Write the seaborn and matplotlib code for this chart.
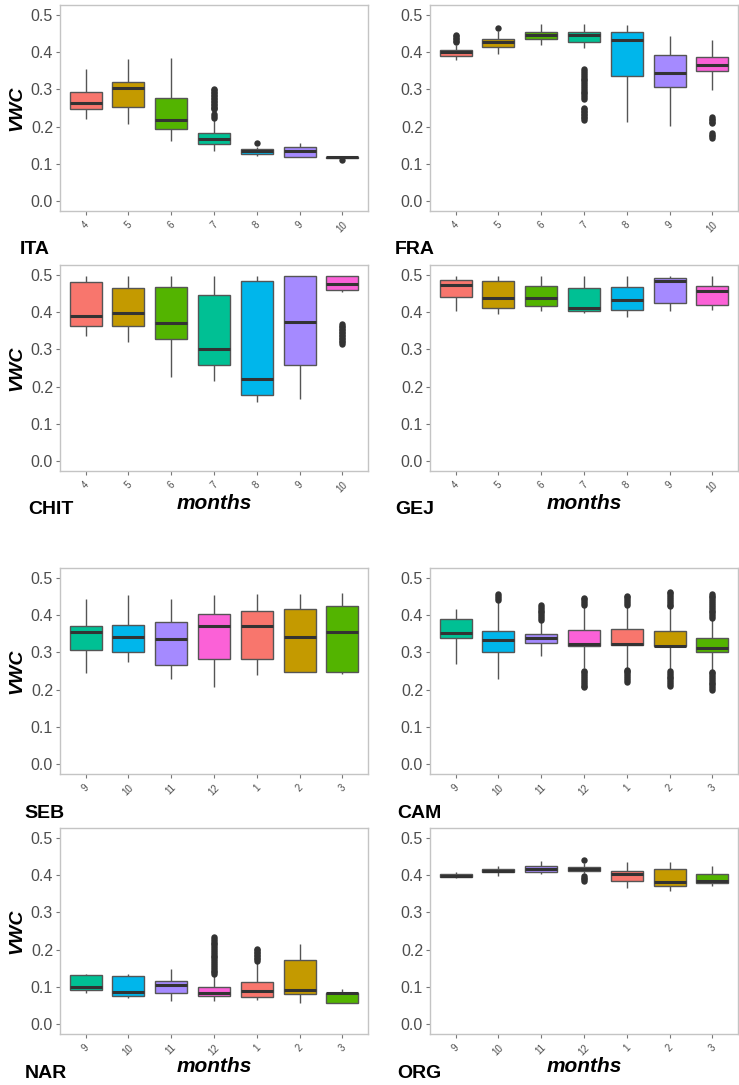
import matplotlib
matplotlib.use("Agg")
import matplotlib.pyplot as plt
import pandas as pd
import seaborn as sns

# ---------------------------------------------------------------------------
# Soil volumetric water content (VWC) per month at eight sites.
# Each box is given as (lower whisker, Q1, median, Q3, upper whisker).
# ---------------------------------------------------------------------------
MONTHS_A = ["4", "5", "6", "7", "8", "9", "10"]
MONTHS_B = ["9", "10", "11", "12", "1", "2", "3"]

ITA_stats = [
    (0.220, 0.246, 0.264, 0.292, 0.355),
    (0.207, 0.254, 0.304, 0.319, 0.382),
    (0.161, 0.194, 0.217, 0.278, 0.385),
    (0.135, 0.154, 0.168, 0.182, 0.218),
    (0.122, 0.127, 0.134, 0.140, 0.145),
    (0.120, 0.120, 0.135, 0.145, 0.157),
    (0.117, 0.117, 0.118, 0.119, 0.120),
]
ITA_outliers = {
    "7": [0.222, 0.228, 0.235, 0.246, 0.250, 0.254, 0.258, 0.262, 0.266,
          0.270, 0.274, 0.278, 0.282, 0.286, 0.290, 0.294, 0.298, 0.302],
    "8": [0.157],
    "10": [0.111],
}

FRA_stats = [
    (0.379, 0.390, 0.399, 0.405, 0.420),
    (0.395, 0.414, 0.427, 0.435, 0.455),
    (0.418, 0.434, 0.445, 0.454, 0.475),
    (0.410, 0.428, 0.446, 0.453, 0.476),
    (0.213, 0.337, 0.433, 0.453, 0.473),
    (0.203, 0.307, 0.344, 0.391, 0.444),
    (0.298, 0.349, 0.365, 0.387, 0.433),
]
FRA_outliers = {
    "4": [0.426, 0.430, 0.434, 0.438, 0.442, 0.446],
    "5": [0.464],
    "7": [0.218, 0.222, 0.226, 0.230, 0.234, 0.238, 0.242, 0.246, 0.249,
          0.274, 0.279, 0.284, 0.289, 0.294, 0.299, 0.304, 0.309, 0.314,
          0.319, 0.324, 0.329, 0.334, 0.339, 0.344, 0.349, 0.354],
    "10": [0.170, 0.174, 0.178, 0.182, 0.209, 0.213, 0.217, 0.221, 0.225],
}

CHIT_stats = [
    (0.337, 0.363, 0.388, 0.480, 0.497),
    (0.321, 0.362, 0.397, 0.464, 0.497),
    (0.225, 0.329, 0.371, 0.467, 0.497),
    (0.215, 0.258, 0.300, 0.446, 0.497),
    (0.160, 0.178, 0.220, 0.484, 0.497),
    (0.167, 0.257, 0.374, 0.497, 0.497),
    (0.453, 0.460, 0.476, 0.497, 0.497),
]
CHIT_outliers = {
    "10": [0.315, 0.319, 0.323, 0.327, 0.331, 0.335, 0.339, 0.343, 0.347,
           0.351, 0.355, 0.359, 0.363, 0.367],
}

GEJ_stats = [
    (0.403, 0.440, 0.473, 0.487, 0.497),
    (0.395, 0.412, 0.437, 0.484, 0.497),
    (0.403, 0.415, 0.437, 0.471, 0.497),
    (0.398, 0.403, 0.410, 0.464, 0.497),
    (0.387, 0.405, 0.432, 0.468, 0.497),
    (0.403, 0.423, 0.482, 0.491, 0.497),
    (0.405, 0.419, 0.456, 0.470, 0.497),
]
GEJ_outliers = {}

SEB_stats = [
    (0.244, 0.305, 0.355, 0.371, 0.443),
    (0.273, 0.302, 0.340, 0.373, 0.454),
    (0.228, 0.267, 0.336, 0.382, 0.443),
    (0.208, 0.281, 0.370, 0.402, 0.454),
    (0.240, 0.282, 0.370, 0.410, 0.456),
    (0.246, 0.248, 0.340, 0.415, 0.456),
    (0.243, 0.246, 0.355, 0.425, 0.459),
]
SEB_outliers = {}

CAM_stats = [
    (0.270, 0.338, 0.353, 0.389, 0.417),
    (0.228, 0.300, 0.332, 0.358, 0.435),
    (0.290, 0.325, 0.338, 0.350, 0.382),
    (0.258, 0.316, 0.323, 0.360, 0.422),
    (0.258, 0.319, 0.322, 0.363, 0.422),
    (0.256, 0.316, 0.317, 0.358, 0.418),
    (0.253, 0.302, 0.311, 0.338, 0.388),
]
CAM_outliers = {
    "10": [0.440, 0.445, 0.450, 0.455],
    "11": [0.387, 0.392, 0.397, 0.402, 0.407, 0.412, 0.417, 0.422, 0.427],
    "12": [0.206, 0.211, 0.216, 0.221, 0.226, 0.231, 0.236, 0.241, 0.246,
           0.250, 0.427, 0.432, 0.437, 0.442, 0.445],
    "1": [0.221, 0.226, 0.231, 0.236, 0.241, 0.246, 0.251, 0.254,
          0.427, 0.432, 0.437, 0.442, 0.447, 0.452],
    "2": [0.210, 0.215, 0.220, 0.225, 0.230, 0.235, 0.240, 0.245, 0.250,
          0.423, 0.428, 0.433, 0.438, 0.443, 0.448, 0.453, 0.458, 0.461],
    "3": [0.199, 0.204, 0.209, 0.214, 0.219, 0.224, 0.229, 0.234, 0.239,
          0.244, 0.247, 0.392, 0.397, 0.402, 0.407, 0.412, 0.417, 0.422,
          0.427, 0.432, 0.437, 0.442, 0.447, 0.452, 0.457],
}

NAR_stats = [
    (0.084, 0.093, 0.100, 0.133, 0.134),
    (0.071, 0.076, 0.087, 0.130, 0.134),
    (0.062, 0.083, 0.106, 0.115, 0.147),
    (0.062, 0.077, 0.085, 0.100, 0.130),
    (0.065, 0.072, 0.089, 0.112, 0.165),
    (0.058, 0.080, 0.093, 0.172, 0.216),
    (0.056, 0.056, 0.083, 0.084, 0.094),
]
NAR_outliers = {
    "12": [0.134, 0.139, 0.144, 0.149, 0.154, 0.159, 0.164, 0.169, 0.174,
           0.179, 0.184, 0.189, 0.194, 0.199, 0.204, 0.209, 0.214, 0.219,
           0.224, 0.229, 0.234],
    "1": [0.170, 0.174, 0.178, 0.182, 0.186, 0.190, 0.194, 0.198, 0.202],
}

ORG_stats = [
    (0.393, 0.394, 0.398, 0.403, 0.409),
    (0.398, 0.408, 0.412, 0.417, 0.423),
    (0.402, 0.409, 0.416, 0.425, 0.437),
    (0.405, 0.411, 0.417, 0.422, 0.432),
    (0.365, 0.385, 0.404, 0.412, 0.434),
    (0.356, 0.371, 0.382, 0.415, 0.436),
    (0.370, 0.378, 0.385, 0.402, 0.425),
]
ORG_outliers = {
    "12": [0.385, 0.389, 0.393, 0.397, 0.439],
}

# Month colours follow the default ggplot hue wheel (7 levels)
HUE7 = ["#F8766D", "#C49A00", "#53B400", "#00C094", "#00B6EB", "#A58AFF", "#FB61D7"]
MONTH_COLORS = {
    "4": HUE7[0], "5": HUE7[1], "6": HUE7[2], "7": HUE7[3],
    "8": HUE7[4], "9": HUE7[5], "10": HUE7[6],
}
MONTH_COLORS_B = {
    "1": HUE7[0], "2": HUE7[1], "3": HUE7[2], "9": HUE7[3],
    "10": HUE7[4], "11": HUE7[5], "12": HUE7[6],
}

PANELS = [
    ("ITA", ITA_stats, ITA_outliers, MONTHS_A, MONTH_COLORS),
    ("FRA", FRA_stats, FRA_outliers, MONTHS_A, MONTH_COLORS),
    ("CHIT", CHIT_stats, CHIT_outliers, MONTHS_A, MONTH_COLORS),
    ("GEJ", GEJ_stats, GEJ_outliers, MONTHS_A, MONTH_COLORS),
    ("SEB", SEB_stats, SEB_outliers, MONTHS_B, MONTH_COLORS_B),
    ("CAM", CAM_stats, CAM_outliers, MONTHS_B, MONTH_COLORS_B),
    ("NAR", NAR_stats, NAR_outliers, MONTHS_B, MONTH_COLORS_B),
    ("ORG", ORG_stats, ORG_outliers, MONTHS_B, MONTH_COLORS_B),
]

sns.set_theme(style="white")
plt.rcParams["font.family"] = ["Liberation Sans", "DejaVu Sans"]

W, H = 739, 1085
fig = plt.figure(figsize=(W / 100, H / 100), dpi=100)

col_left_px = [60, 430]
row_top_px = [5, 265, 568, 828]
panel_w_px, panel_h_px = 308, 206

label_pos_px = {
    "ITA": (20, 250), "FRA": (395, 250),
    "CHIT": (28, 510), "GEJ": (395, 510),
    "SEB": (24, 813), "CAM": (397, 813),
    "NAR": (25, 1073), "ORG": (397, 1073),
}


def fx(px):
    return px / W


def fy(py):
    return 1 - py / H


for i, (site, stats, outliers, order, colors) in enumerate(PANELS):
    row, col = divmod(i, 2)
    left = col_left_px[col]
    top = row_top_px[row]
    ax = fig.add_axes([fx(left), fy(top + panel_h_px), panel_w_px / W, panel_h_px / H])

    rows = []
    for m, s in zip(order, stats):
        for v in s:
            rows.append({"month": m, "vwc": v})
    box_df = pd.DataFrame(rows)

    sns.boxplot(
        data=box_df, x="month", y="vwc", hue="month",
        order=order, hue_order=order, palette=colors, saturation=1,
        legend=False, dodge=False, whis=(0, 100), width=0.75,
        linecolor="#3a3a3a", linewidth=1.0, showcaps=False,
        medianprops=dict(linewidth=2.2, color="#333333"),
        boxprops=dict(edgecolor="#555555"),
        whiskerprops=dict(color="#555555"),
        ax=ax,
    )

    out_rows = [{"month": m, "vwc": v} for m, vals in outliers.items() for v in vals]
    if out_rows:
        out_df = pd.DataFrame(out_rows)
        sns.stripplot(
            data=out_df, x="month", y="vwc", order=order, jitter=False,
            color="#333333", size=4.6, linewidth=0, ax=ax, zorder=5,
        )

    ax.set_xlim(-0.6, len(order) - 0.4)
    ax.set_ylim(-0.026, 0.526)
    ax.set_yticks([0.0, 0.1, 0.2, 0.3, 0.4, 0.5])
    ax.set_yticklabels(["0.0", "0.1", "0.2", "0.3", "0.4", "0.5"])
    ax.set_xticks(range(len(order)))
    ax.set_xticklabels(order, rotation=45, ha="center")
    ax.set_xlabel("")
    ax.set_ylabel("")
    ax.tick_params(axis="y", left=True, length=3, width=0.8, color="#777777",
                   labelsize=11.5, labelcolor="#4D4D4D", pad=2)
    ax.tick_params(axis="x", bottom=True, length=3, width=0.8, color="#777777",
                   labelsize=7, labelcolor="#4D4D4D", pad=3)
    for sp in ax.spines.values():
        sp.set_visible(True)
        sp.set_color("#C4C4C4")
        sp.set_linewidth(1.0)
    ax.grid(False)

    # site name under each panel
    lx, ly = label_pos_px[site]
    fig.text(fx(lx), fy(ly), site, fontsize=14, fontweight="bold",
             ha="left", va="center", color="black")

    # y-axis title on the left-hand panels
    if col == 0:
        fig.text(fx(17), fy(top + panel_h_px / 2), "VWC", fontsize=14,
                 fontweight="bold", fontstyle="italic", rotation=90,
                 ha="center", va="center", color="black")

    # x-axis title on the second and fourth rows
    if row in (1, 3):
        fig.text(fx(left + panel_w_px / 2), fy(top + panel_h_px + 32), "months",
                 fontsize=15, fontweight="bold", fontstyle="italic",
                 ha="center", va="center", color="black")

fig.savefig("out.png", dpi=100, facecolor="white")
